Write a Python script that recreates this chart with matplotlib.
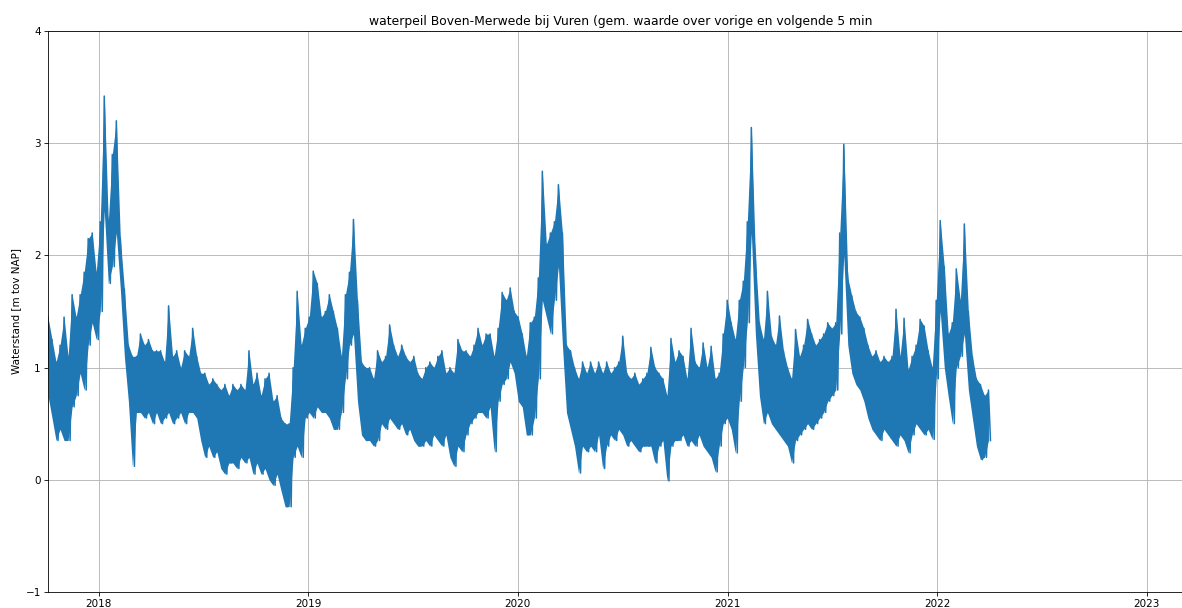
import matplotlib
matplotlib.use("Agg")
import matplotlib.pyplot as plt
import matplotlib.dates as mdates
import numpy as np
import pandas as pd

# weekly max / min of the water level (m tov NAP)
start = "2017-10-05"
hoog = [
    1.45, 1.25, 1.05, 1.2, 1.45, 1.1, 1.65, 1.45, 1.65, 1.85,
    2.15, 2.2, 1.85, 2.3, 3.42, 2.3, 2.9, 3.2, 2.15, 1.7,
    1.2, 1.1, 1.1, 1.3, 1.2, 1.25, 1.15, 1.15, 1.15, 1.05,
    1.55, 1.1, 1.15, 1.0, 1.15, 1.1, 1.35, 1.1, 0.95, 0.95,
    0.85, 0.9, 0.85, 0.8, 0.85, 0.75, 0.85, 0.8, 0.85, 0.8,
    1.15, 0.85, 0.95, 0.75, 0.9, 0.95, 0.7, 0.75, 0.55, 0.5,
    0.5, 1.0, 1.68, 1.2, 1.35, 1.45, 1.86, 1.75, 1.45, 1.5,
    1.65, 1.5, 1.35, 1.1, 1.65, 1.85, 2.32, 1.6, 1.05, 1.0,
    1.0, 0.9, 1.15, 1.05, 1.1, 1.38, 1.2, 1.1, 1.2, 1.1,
    1.05, 1.1, 0.95, 0.9, 1.0, 1.05, 1.0, 1.1, 1.15, 0.95,
    1.0, 0.95, 1.25, 1.15, 1.15, 1.1, 1.2, 1.35, 1.2, 1.3,
    1.3, 1.1, 1.35, 1.67, 1.6, 1.71, 1.5, 1.45, 1.3, 1.1,
    1.4, 1.45, 1.8, 2.75, 2.1, 2.2, 2.3, 2.63, 2.2, 1.2,
    1.15, 1.0, 0.9, 1.05, 0.95, 1.05, 0.95, 1.05, 0.95, 1.05,
    0.95, 1.0, 1.05, 1.28, 0.95, 0.9, 0.95, 0.85, 0.9, 0.95,
    1.18, 1.0, 0.95, 0.9, 0.75, 1.26, 1.05, 1.15, 1.1, 0.9,
    1.35, 1.05, 1.0, 1.22, 1.0, 1.19, 0.9, 0.95, 1.3, 1.6,
    1.4, 1.25, 1.6, 1.77, 2.3, 3.14, 2.0, 1.4, 1.25, 1.68,
    1.28, 1.2, 1.46, 1.15, 1.0, 0.9, 1.34, 1.1, 1.2, 1.43,
    1.3, 1.2, 1.25, 1.3, 1.4, 1.35, 1.4, 2.2, 2.99, 1.8,
    1.64, 1.5, 1.45, 1.35, 1.2, 1.1, 1.15, 1.05, 1.1, 1.05,
    1.1, 1.52, 1.1, 1.44, 0.98, 1.1, 1.2, 1.43, 1.37, 1.15,
    1.0, 1.6, 2.31, 1.9, 1.3, 1.4, 1.88, 1.6, 2.28, 1.5,
    1.1, 0.9, 0.85, 0.75, 0.8,
]
laag = [
    0.75, 0.55, 0.35, 0.45, 0.35, 0.35, 0.65, 0.75, 0.95, 0.8,
    1.2, 1.4, 1.25, 1.5, 2.4, 1.75, 1.9, 2.2, 1.7, 1.1,
    0.7, 0.12, 0.6, 0.6, 0.55, 0.6, 0.5, 0.6, 0.5, 0.55,
    0.6, 0.5, 0.55, 0.6, 0.5, 0.6, 0.6, 0.55, 0.35, 0.2,
    0.3, 0.2, 0.25, 0.1, 0.05, 0.15, 0.15, 0.1, 0.2, 0.15,
    0.2, 0.05, 0.15, 0.05, 0.1, 0.0, -0.05, 0.05, -0.1, -0.24,
    -0.24, 0.2, 0.3, 0.2, 0.55, 0.6, 0.55, 0.65, 0.6, 0.6,
    0.55, 0.45, 0.45, 0.6, 0.9, 1.2, 1.3, 0.7, 0.4, 0.35,
    0.35, 0.3, 0.35, 0.5, 0.45, 0.55, 0.5, 0.45, 0.5, 0.4,
    0.45, 0.35, 0.3, 0.3, 0.35, 0.3, 0.4, 0.35, 0.3, 0.4,
    0.2, 0.12, 0.3, 0.25, 0.4, 0.5, 0.55, 0.6, 0.6, 0.55,
    0.65, 0.25, 0.7, 0.85, 0.9, 1.05, 0.95, 0.7, 0.65, 0.4,
    0.4, 0.55, 0.9, 1.6, 1.45, 1.3, 1.6, 1.9, 1.2, 0.6,
    0.45, 0.3, 0.06, 0.3, 0.25, 0.3, 0.25, 0.4, 0.1, 0.3,
    0.4, 0.35, 0.45, 0.4, 0.3, 0.35, 0.3, 0.25, 0.3, 0.3,
    0.3, 0.15, 0.3, 0.35, -0.01, 0.3, 0.35, 0.35, 0.4, 0.3,
    0.35, 0.3, 0.4, 0.3, 0.25, 0.2, 0.07, 0.3, 0.5, 0.55,
    0.45, 0.24, 0.7, 1.0, 1.4, 2.2, 1.3, 0.75, 0.5, 0.6,
    0.5, 0.45, 0.4, 0.35, 0.3, 0.15, 0.35, 0.4, 0.45, 0.5,
    0.45, 0.5, 0.55, 0.6, 0.7, 0.75, 0.8, 1.3, 2.0, 1.2,
    0.95, 0.85, 0.8, 0.7, 0.55, 0.45, 0.4, 0.35, 0.45, 0.4,
    0.35, 0.3, 0.4, 0.35, 0.24, 0.4, 0.5, 0.45, 0.4, 0.45,
    0.36, 0.9, 1.5, 1.0, 0.74, 0.5, 1.0, 1.1, 1.3, 0.8,
    0.55, 0.3, 0.18, 0.2, 0.35,
]

weken = pd.date_range(start, periods=len(hoog), freq="7D")
halfweek = weken + pd.Timedelta(hours=84)

# interleave max and min so the line looks like the dense original signal
tijd = np.empty(2 * len(hoog), dtype="datetime64[ns]")
tijd[0::2] = weken.values
tijd[1::2] = halfweek.values
stand = np.empty(2 * len(hoog))
stand[0::2] = hoog
stand[1::2] = laag

# reference is a scaled-down screenshot, so render at a lower dpi
dpi = 74.4
fig = plt.figure(figsize=(1182 / dpi, 608 / dpi), dpi=dpi)
ax = fig.add_axes([48 / 1182, 16 / 608, 1146 / 1182, 561 / 608])

ax.fill_between(weken, laag, hoog, color="#1f77b4", linewidth=0, zorder=2)
ax.plot(tijd, stand, color="#1f77b4", linewidth=1.5, zorder=2)

ax.set_xlim(pd.Timestamp("2017-10-05"), pd.Timestamp("2023-03-24"))
ax.set_ylim(-1, 4)
ax.set_yticks(range(-1, 5))
ax.xaxis.set_major_locator(mdates.YearLocator())
ax.xaxis.set_major_formatter(mdates.DateFormatter("%Y"))
ax.grid(True)
ax.set_ylabel("Waterstand [m tov NAP]")
ax.set_title("waterpeil Boven-Merwede bij Vuren (gem. waarde over vorige en volgende 5 min")

fig.savefig("out.png", dpi=dpi)
